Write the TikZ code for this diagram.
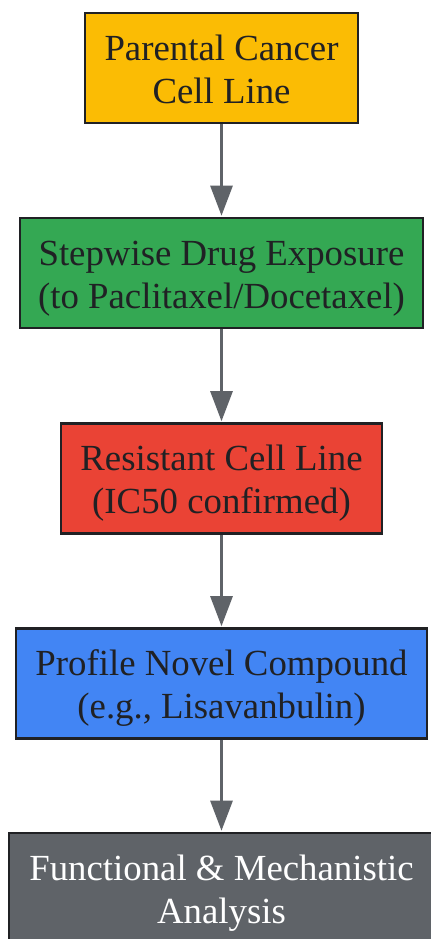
\documentclass[tikz,border=0pt]{standalone}
\usepackage{fontspec}
\setmainfont{Liberation Serif}
\usetikzlibrary{arrows.meta}
\definecolor{cyellow}{HTML}{FBBC04}
\definecolor{cgreen}{HTML}{34A853}
\definecolor{cred}{HTML}{EA4335}
\definecolor{cblue}{HTML}{4285F4}
\definecolor{cgrey}{HTML}{5F6368}
\definecolor{ctext}{HTML}{202124}
\definecolor{cline}{HTML}{5F6368}
\newcommand\mystrut{\rule[-4pt]{0pt}{21.5pt}}
\tikzset{
  box/.style={draw=ctext, line width=1.3pt, rectangle, minimum height=55pt, inner sep=0pt,
    align=center, text=ctext, font=\fontsize{18.4}{21.5}\selectfont},
  conn/.style={draw=cline, line width=1.4pt, -{Triangle[length=15pt,width=11pt]}, shorten >=0.5pt}
}
\begin{document}
\begin{tikzpicture}[x=0.5pt,y=-0.5pt]
\useasboundingbox[fill=white] (0,0) rectangle (431,939);
\node[box, fill=cyellow, minimum width=136.5pt] (a) at (221.5,68) {\mystrut Parental Cancer\\\mystrut Cell Line};
\node[box, fill=cgreen, minimum width=201.5pt] (b) at (221.5,273) {\mystrut Stepwise Drug Exposure\\\mystrut (to Paclitaxel/Docetaxel)};
\node[box, fill=cred, minimum width=160.5pt] (c) at (221.5,478.5) {\mystrut Resistant Cell Line\\\mystrut (IC50 confirmed)};
\node[box, fill=cblue, minimum width=205.5pt] (d) at (221.5,683.5) {\mystrut Profile Novel Compound\\\mystrut (e.g., Lisavanbulin)};
\node[box, fill=cgrey, text=white, minimum width=212.5pt] (e) at (221.5,888) {\mystrut Functional \& Mechanistic\\\mystrut Analysis};
\draw[conn] (a) -- (b);
\draw[conn] (b) -- (c);
\draw[conn] (c) -- (d);
\draw[conn] (d) -- (e);
\end{tikzpicture}
\end{document}
